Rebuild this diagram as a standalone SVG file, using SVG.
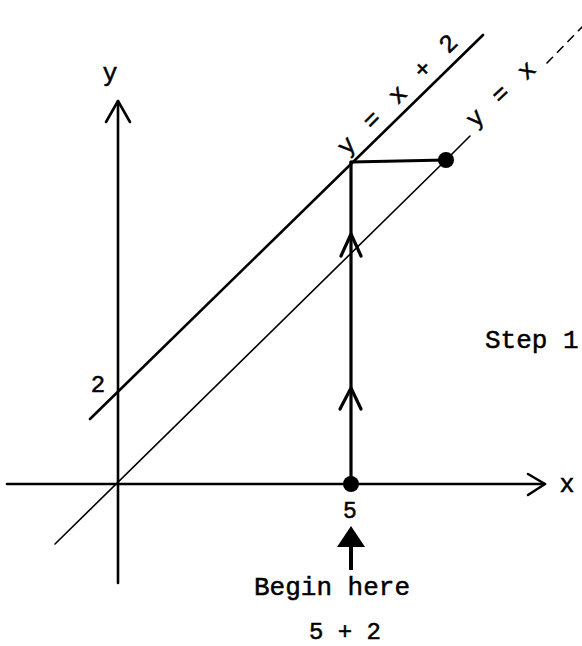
<svg xmlns="http://www.w3.org/2000/svg" width="582" height="646" viewBox="0 0 582 646">
  <style>
    .ax { stroke: #000; stroke-width: 2.6; fill: none; stroke-linecap: round; stroke-linejoin: round; }
    .ln { stroke: #000; stroke-width: 2.6; fill: none; stroke-linecap: round; }
    .thin { stroke: #000; stroke-width: 1.6; fill: none; stroke-linecap: round; }
    .path { stroke: #000; stroke-width: 3.2; fill: none; stroke-linecap: round; stroke-linejoin: round; }
    .t { font-family: "Liberation Mono", "DejaVu Sans Mono", monospace; fill: #000; stroke: #000; stroke-width: 0.5; }
  </style>
  <rect width="582" height="646" fill="#fff"/>

  <g id="axes">
    <line class="ax" x1="118" y1="583" x2="118" y2="101"/>
    <polyline class="ax" points="106,122 118,101 130,122"/>
    <line class="ax" x1="7" y1="484" x2="545" y2="484"/>
    <polyline class="ax" points="528,474 545,484 528,495"/>
    <text class="t" x="110" y="81" font-size="25" text-anchor="middle">y</text>
    <text class="t" x="567" y="492" font-size="25" text-anchor="middle">x</text>
    <text class="t" x="98" y="392" font-size="24" text-anchor="middle">2</text>
    <text class="t" x="350" y="518" font-size="23" text-anchor="middle">5</text>
  </g>

  <g id="line-y-x-plus-2">
    <line class="ln" x1="90" y1="419" x2="483" y2="35"/>
    <text class="t" x="404" y="99" font-size="25" letter-spacing="3" text-anchor="middle" transform="rotate(-45 404 99)">y = x + 2</text>
  </g>

  <g id="line-y-x">
    <line class="thin" x1="55" y1="544" x2="446" y2="160"/>
    <line class="thin" x1="446" y1="160" x2="470" y2="136"/>
    <line class="thin" x1="547" y1="63" x2="582" y2="27" stroke-dasharray="8 7"/>
    <text class="t" x="507" y="99" font-size="25" letter-spacing="2.5" text-anchor="middle" transform="rotate(-43 507 99)">y = x</text>
  </g>

  <g id="connectors">
    <line class="path" x1="351" y1="484" x2="351" y2="162"/>
    <line class="path" x1="351" y1="162" x2="446" y2="160" stroke-width="4"/>
    <polyline class="path" points="341,256 351,234 361,256"/>
    <polyline class="path" points="340,409 351,388 361,409"/>
  </g>

  <g id="start-point">
    <circle cx="351" cy="484" r="8" fill="#000"/>
  </g>
  <g id="end-point">
    <circle cx="446" cy="160" r="8" fill="#000"/>
  </g>

  <g id="begin-arrow">
    <polygon points="351,526 337,547 365,547" fill="#000"/>
    <line x1="351" y1="545" x2="351" y2="570" stroke="#000" stroke-width="4"/>
    <text class="t" x="332" y="595" font-size="26" text-anchor="middle">Begin here</text>
    <text class="t" x="345" y="639" font-size="24" text-anchor="middle" stroke-width="0.9">5 + 2</text>
  </g>

  <g id="step-label">
    <text class="t" x="485" y="348" font-size="26">Step 1</text>
  </g>
</svg>
